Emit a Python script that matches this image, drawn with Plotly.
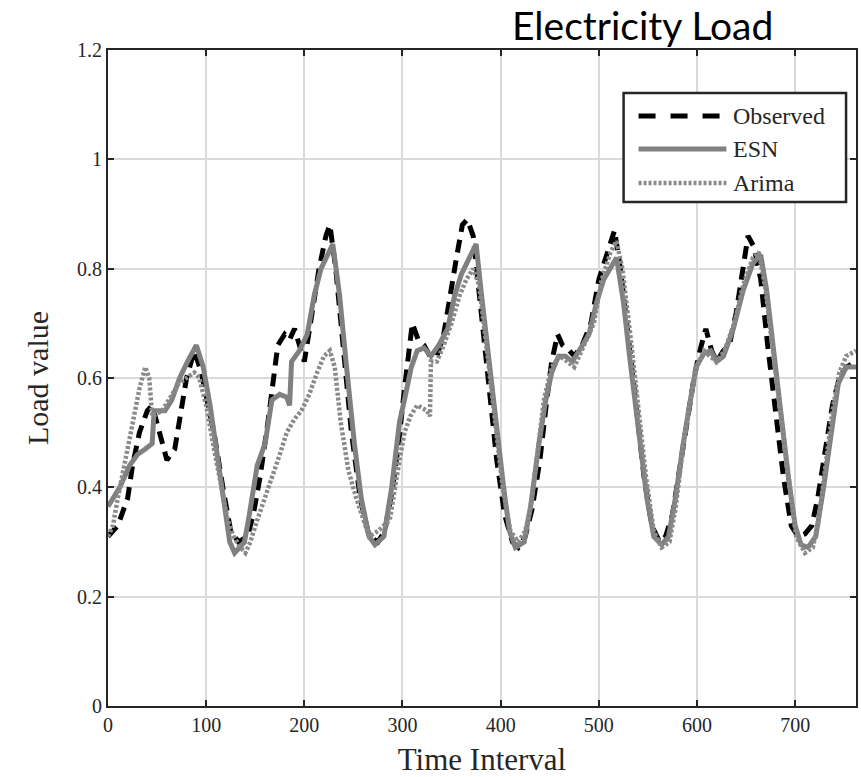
import plotly.graph_objects as go

# Observed series
obs_x = [0, 10, 20, 25, 32, 40, 45, 52, 60, 68, 75, 80, 88, 95, 102, 108, 117, 125, 133, 142, 148, 155, 163, 168, 173, 180, 185, 190, 195, 200,
         208, 215, 222, 226, 232, 240, 248, 257, 266, 275, 282, 290, 296, 302, 307, 310, 316, 322, 328, 335, 342, 348, 355, 361, 366, 372,
         380, 388, 396, 404, 412, 418, 425, 432, 440, 447, 452, 458, 463, 470, 475, 483, 492, 500, 510, 516, 522, 530, 538, 546, 554, 562,
         568, 575, 582, 590, 597, 603, 609, 615, 620, 627, 633, 640, 647, 652, 658, 665, 672, 680, 688, 696, 703, 710, 717, 723, 730, 738,
         745, 752, 762]
obs_y = [0.31, 0.33, 0.38, 0.44, 0.50, 0.54, 0.55, 0.50, 0.45, 0.47, 0.55, 0.60, 0.65, 0.61, 0.55, 0.50, 0.40, 0.32, 0.30, 0.31, 0.35, 0.42, 0.52, 0.60,
         0.66, 0.68, 0.67, 0.69, 0.66, 0.63,
         0.72, 0.80, 0.86, 0.88, 0.80, 0.65, 0.50, 0.38, 0.31, 0.30, 0.32, 0.40, 0.48, 0.58, 0.66, 0.70, 0.67, 0.66, 0.64, 0.64, 0.68, 0.75,
         0.82, 0.88, 0.89, 0.86,
         0.72, 0.58, 0.45, 0.35, 0.30, 0.29, 0.31, 0.36, 0.45, 0.56, 0.63, 0.68, 0.66, 0.65, 0.64, 0.66, 0.70, 0.78, 0.84, 0.87, 0.80, 0.68,
         0.55, 0.42, 0.33, 0.30,
         0.31, 0.35, 0.43, 0.52, 0.60, 0.65, 0.69, 0.65, 0.63, 0.65, 0.66, 0.72, 0.80, 0.86, 0.84, 0.78, 0.66, 0.54, 0.42, 0.33, 0.31, 0.315,
         0.33, 0.38, 0.46, 0.55,
         0.60, 0.62, 0.63]

# ESN series
esn_x = [0, 12, 22, 30, 38, 45, 47, 58, 65, 73, 81, 90, 97, 104, 112, 119, 124, 129, 139, 144, 152, 160, 167, 175, 182, 185, 187, 195, 203, 210,
         217, 229, 236, 243, 251, 258, 266, 272, 281, 289, 297, 302, 309, 315, 322, 329, 337, 346, 353, 360, 368, 375, 380, 388, 396, 403,
         409, 415, 424, 431, 439, 446, 452, 459, 466, 473, 480, 490, 498, 505, 518, 525, 532, 541, 549, 556, 564, 571, 578, 586, 593, 599,
         607, 614, 620, 627, 637, 647, 657, 665, 671, 678, 685, 693, 700, 706, 713, 721, 729, 737, 744, 752, 762]
esn_y = [0.365, 0.40, 0.44, 0.46, 0.47, 0.48, 0.54, 0.54, 0.56, 0.60, 0.63, 0.66, 0.62, 0.55, 0.45, 0.36, 0.30, 0.28, 0.30, 0.35, 0.44, 0.48, 0.56,
         0.57, 0.565, 0.55, 0.63, 0.65, 0.68, 0.75,
         0.80, 0.845, 0.75, 0.62, 0.48, 0.38, 0.31, 0.295, 0.31, 0.40, 0.52, 0.56, 0.62, 0.65, 0.655, 0.64, 0.66, 0.69, 0.75, 0.79, 0.82,
         0.845, 0.76, 0.63, 0.50, 0.40,
         0.32, 0.29, 0.30, 0.37, 0.48, 0.56, 0.61, 0.64, 0.64, 0.63, 0.65, 0.68, 0.74, 0.78, 0.82, 0.74, 0.63, 0.50, 0.38, 0.31, 0.295, 0.31,
         0.38, 0.48, 0.56, 0.62,
         0.645, 0.65, 0.63, 0.64, 0.69, 0.76, 0.81, 0.825, 0.76, 0.65, 0.54, 0.42, 0.33, 0.295, 0.29, 0.31, 0.40, 0.50, 0.59, 0.62, 0.62]

# Arima series
ari_x = [0, 5, 10, 18, 25, 32, 38, 42, 45, 55, 62, 72, 80, 88, 93, 100, 108, 115, 122, 128, 135, 140, 145, 152, 160, 167, 175, 182, 190, 197,
         205, 213, 220, 226, 231, 237, 245, 253, 266, 275, 287, 297, 302, 308, 315, 325, 328, 329, 335, 342, 350, 358, 365, 372, 378, 386,
         394, 402, 410, 418, 425, 430, 438, 444, 452, 460, 468, 475, 485, 495, 503, 512, 518, 524, 532, 540, 548, 556, 564, 572, 578, 585,
         592, 600, 607, 613, 620, 628, 638, 647, 657, 663, 670, 678, 686, 694, 701, 710, 718, 724, 731, 738, 745, 752, 762]
ari_y = [0.31, 0.33, 0.38, 0.45, 0.52, 0.58, 0.62, 0.60, 0.53, 0.54, 0.56, 0.59, 0.60, 0.61, 0.60, 0.55, 0.47, 0.40, 0.34, 0.31, 0.29, 0.28, 0.30,
         0.34, 0.38, 0.42, 0.46, 0.50, 0.525, 0.54,
         0.57, 0.61, 0.64, 0.65, 0.62, 0.52, 0.43, 0.38, 0.31, 0.32, 0.34, 0.45, 0.50, 0.53, 0.55, 0.54, 0.53, 0.63, 0.63, 0.66, 0.70, 0.75,
         0.78, 0.80, 0.77, 0.65,
         0.52, 0.40, 0.32, 0.30, 0.32, 0.36, 0.47, 0.56, 0.62, 0.64, 0.63, 0.62, 0.66, 0.70, 0.78, 0.83, 0.85, 0.80, 0.68, 0.54, 0.42, 0.32,
         0.29, 0.30, 0.36, 0.46,
         0.55, 0.62, 0.65, 0.64, 0.63, 0.65, 0.70, 0.77, 0.82, 0.83, 0.76, 0.64, 0.52, 0.40, 0.31, 0.28, 0.29, 0.34, 0.44, 0.54, 0.61, 0.64,
         0.65]

x_ticks = [0, 100, 200, 300, 400, 500, 600, 700]
y_ticks = [0, 0.2, 0.4, 0.6, 0.8, 1.0, 1.2]
y_tick_text = ["0", "0.2", "0.4", "0.6", "0.8", "1", "1.2"]

series_names = ["Observed", "ESN", "Arima"]
series_colors = ["black", "#808080", "#8a8a8a"]
series_widths = [5, 5, 4.5]
series_dashes = ["13px,8px", "solid", "3px,2px"]
legend_dashes = ["17px,15px", "solid", "3px,2px"]

serif = "Liberation Serif, Times New Roman, serif"
ink = "#262626"

fig = go.Figure()
for xs, ys, nm, col, w, d in zip([obs_x, esn_x, ari_x], [obs_y, esn_y, ari_y], series_names,
                                 series_colors, series_widths, series_dashes):
    fig.add_trace(go.Scatter(x=xs, y=ys, mode="lines", name=nm, showlegend=False,
                             line=dict(color=col, width=w, dash=d)))

axis_common = dict(showline=True, linecolor=ink, linewidth=2, mirror="ticks",
                   ticks="inside", ticklen=6, tickwidth=2, tickcolor=ink,
                   showgrid=True, gridcolor="#dadada", gridwidth=1.5, zeroline=False,
                   tickfont=dict(family=serif, size=20, color=ink))

fig.update_layout(
    width=861, height=777,
    margin=dict(l=108, r=3, t=50, b=71),
    paper_bgcolor="white", plot_bgcolor="white",
    showlegend=False,
    xaxis=dict(range=[0, 762], tickvals=x_ticks, title=dict(text="Time Interval",
               font=dict(family=serif, size=31, color=ink), standoff=14), **axis_common),
    yaxis=dict(range=[0, 1.2], tickvals=y_ticks, ticktext=y_tick_text, title=dict(text="Load value",
               font=dict(family=serif, size=30, color=ink), standoff=20), **axis_common),
)

# Custom legend box (MATLAB-style long line samples)
lx0, lx1, ly0, ly1 = 0.6893, 0.9867, 0.7683, 0.9345
fig.add_shape(type="rect", xref="paper", yref="paper", x0=lx0, x1=lx1, y0=ly0, y1=ly1,
              fillcolor="white", line=dict(color=ink, width=2.5), layer="above")
row_y = [0.8994, 0.8491, 0.7973]
for ry, nm, col, w, d in zip(row_y, series_names, series_colors, series_widths, legend_dashes):
    fig.add_shape(type="line", xref="paper", yref="paper", x0=0.7093, x1=0.8267, y0=ry, y1=ry,
                  line=dict(color=col, width=w, dash=d), layer="above")
    fig.add_annotation(text=nm, xref="paper", yref="paper", x=0.8333, y=ry, xanchor="left",
                       yanchor="middle", showarrow=False,
                       font=dict(family=serif, size=24, color=ink))

fig.add_annotation(text="Electricity Load", xref="paper", yref="paper", x=0.714, y=1.0,
                   xanchor="center", yanchor="bottom", yshift=0, showarrow=False,
                   font=dict(family="Lato, Open Sans, sans-serif", size=39, color="black"))

fig.write_html("out.html")
